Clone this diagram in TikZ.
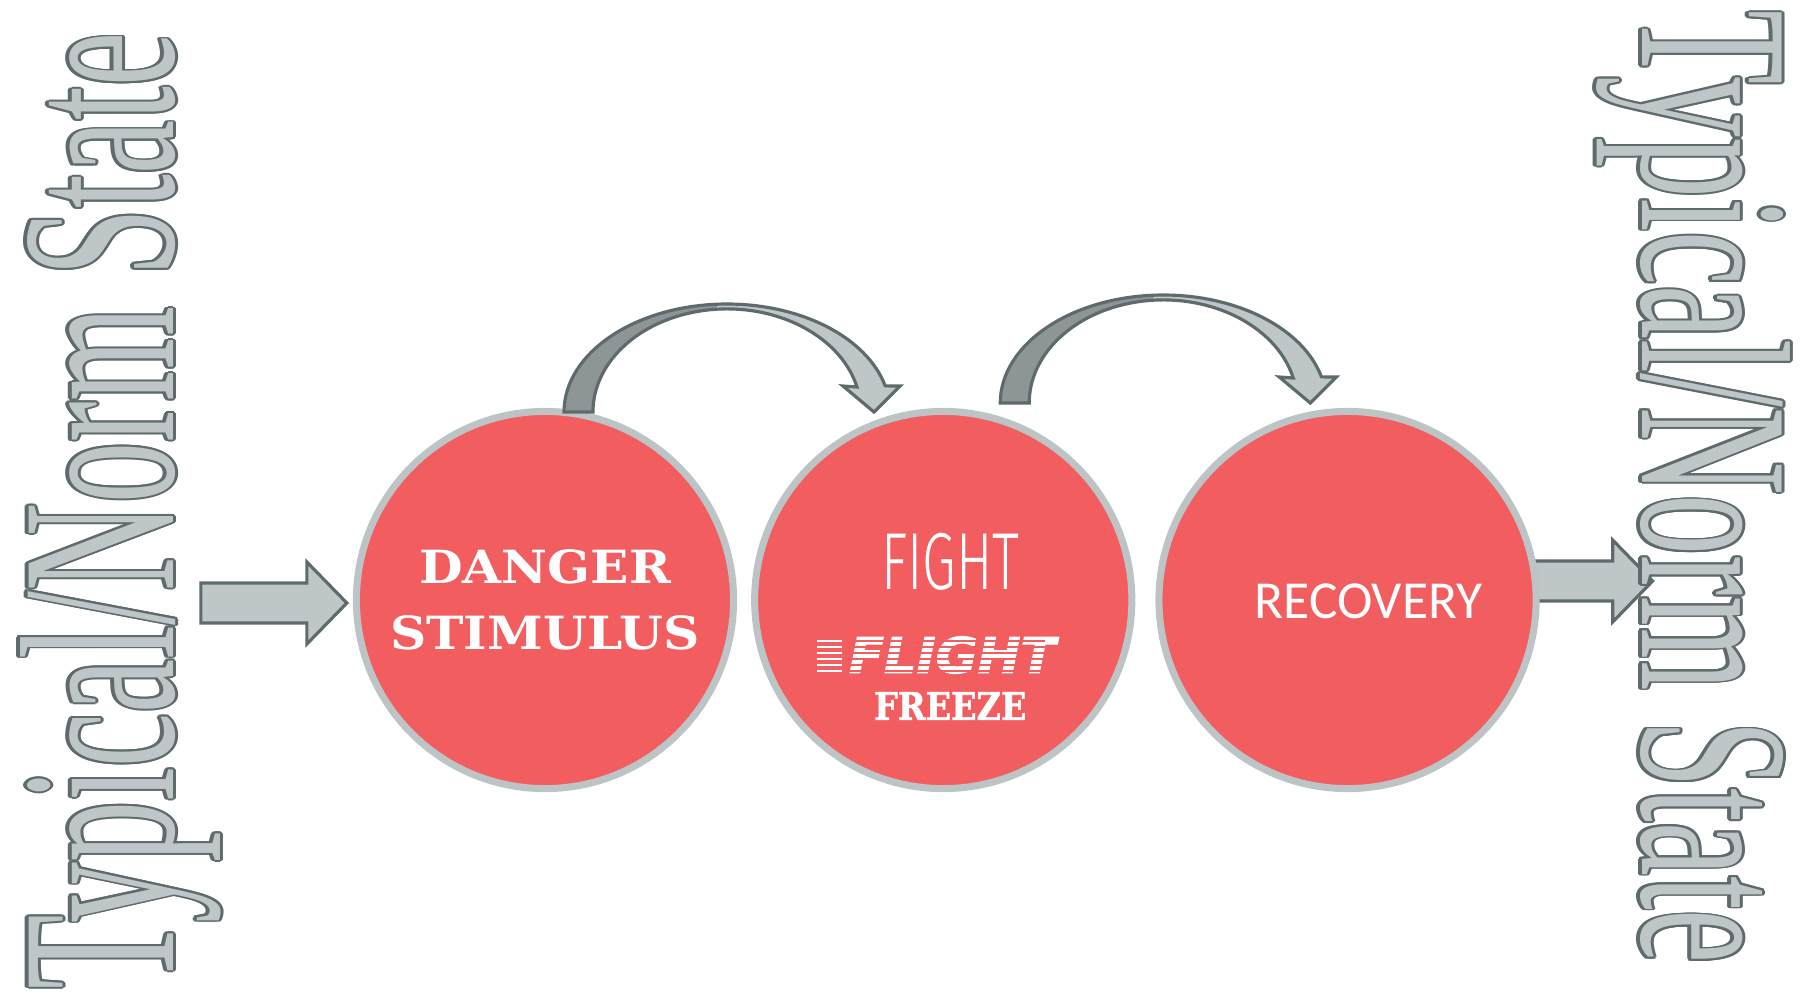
\documentclass[tikz,border=0pt]{standalone}
\usepackage{fontspec}
\usepackage{graphicx}
\usepackage[copies]{contour}
\usetikzlibrary{positioning,calc,backgrounds}

\newfontfamily\sidefont{Liberation Serif}
\newfontfamily\dangerfont{DejaVu Serif}
\newfontfamily\freezefont{DejaVu Serif}[BoldFeatures={FakeBold=1.5}]
\newfontfamily\fightfont{Fira Sans Light}
\newfontfamily\flightfont{DejaVu Sans}[BoldItalicFeatures={FakeBold=2}]
\newfontfamily\recoveryfont{Carlito}

\definecolor{bubblered}{RGB}{242,94,96}
\definecolor{rimgray}{RGB}{189,196,198}
\definecolor{arrowfill}{RGB}{190,198,200}
\definecolor{arrowshade}{RGB}{141,149,150}
\definecolor{arrowline}{RGB}{94,106,107}

\contourlength{0.9pt}

% bent arrow, coordinates taken from the centre of its arc
\newcommand{\bentpath}{(-163,0) arc[start angle=180, end angle=346, x radius=163, y radius=108] -- (173,-26) -- (147,0) -- (116,-26) -- (130,-25) arc[start angle=346, end angle=180, x radius=134, y radius=103] -- cycle}

\newcommand{\bentarrow}[1]{%
  \begin{scope}[shift={(#1)}]
    \fill[arrowshade] \bentpath;
    \begin{scope}
      \clip (-10,-130) rectangle (190,10);
      \fill[arrowfill] \bentpath;
    \end{scope}
    \draw[bentline] \bentpath;
  \end{scope}}

% straight block arrow: tip, shaft length
\newcommand{\blockarrow}[2]{%
  \draw[blockline, shift={(#1)}] (0,0) -- (-40,-41) -- (-40,-20) -- (-#2,-20) -- (-#2,20) -- (-40,20) -- (-40,41) -- cycle;}

\begin{document}
\begin{tikzpicture}[x=0.01cm, y=-0.01cm,
        bubble/.style={circle, draw=rimgray, fill=bubblered, line width=2pt, minimum size=3.77cm, inner sep=0pt, text=white},
        blockline/.style={draw=arrowline, fill=arrowfill, line width=0.9pt},
        bentline/.style={draw=arrowline, line width=0.9pt},
        sidetext/.style={inner sep=0pt, text=arrowfill},
        speed/.style={line width=0.5pt}]

    \useasboundingbox (0,0) rectangle (1806,993);

    \node[bubble, font=\dangerfont\bfseries\fontsize{13}{18.8}\selectfont, align=center] (danger) at (545,600) {\scalebox{1.1}[1]{DANGER}\\\scalebox{1.1}[1]{STIMULUS}};
    \node[bubble, right=0.14cm of danger] (flight) {};
    \node[bubble, right=0.2cm of flight] (recovery) {};

    \node[text=white, font=\fightfont\fontsize{23}{23}\selectfont] (fightword) at ($(flight)+(7,-38)$) {\scalebox{0.67}[1]{FIGHT}};
    \node[text=white, font=\flightfont\bfseries\itshape\fontsize{14}{14}\selectfont] (flightword) at ($(flight)+(9,55)$) {\scalebox{1.04}[1]{FLIGHT}};
    \node[text=white, font=\freezefont\bfseries\fontsize{10.8}{11}\selectfont] (freezeword) at ($(flight)+(7,106)$) {\scalebox{0.88}[1]{FREEZE}};
    \node[text=white, font=\recoveryfont\fontsize{15.2}{16}\selectfont] (recoveryword) at ($(recovery)+(21,1)$) {RECOVERY};

    % speed lines of FLIGHT
    \foreach \dy in {41,47,53,59,65,71} {
        \draw[speed, white] ($(flight)+(-126,\dy)$) -- ++(25,0);
        \draw[speed, bubblered] ($(flight)+(-98,\dy)$) -- ++(200,0);
    }

    \bentarrow{$(danger)+(182,-188)$}
    \bentarrow{$(flight)+(220,-197)$}

    \blockarrow{$(danger.west)+(-6,3)$}{146}
    \begin{scope}[on background layer]
        \blockarrow{$(recovery.east)+(113,-19)$}{125}
    \end{scope}

    \node[sidetext, rotate=90, anchor=base west, font=\sidefont\fontsize{62.7}{63}\selectfont] (leftstate) at (173,990) {\scalebox{0.553}[1]{\contour{arrowline}{Typical/Norm State}}};
    \node[sidetext, rotate=-90, anchor=base west, font=\sidefont\fontsize{60.6}{61}\selectfont] (rightstate) at (1642,10) {\scalebox{0.570}[1]{\contour{arrowline}{Typical/Norm State}}};
\end{tikzpicture}
\end{document}
